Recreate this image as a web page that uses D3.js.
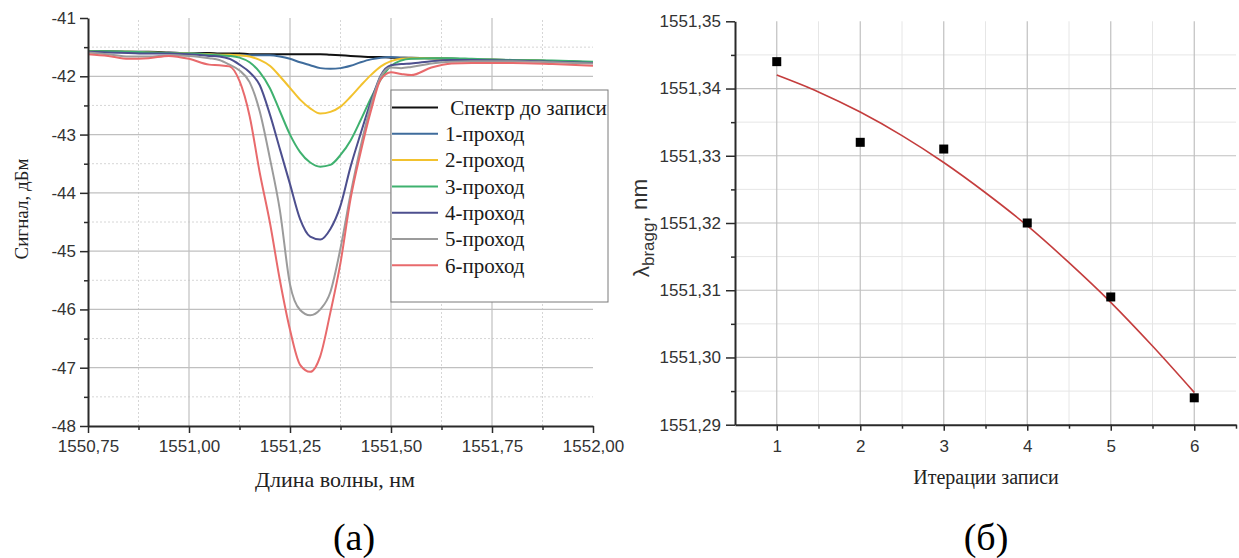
<!DOCTYPE html>
<html><head><meta charset="utf-8">
<script src="https://cdn.jsdelivr.net/npm/d3@7"></script>
<style>body{margin:0;background:#fff}svg{display:block}</style>
</head><body>
<svg id="c" width="1239" height="558"></svg>
<script>
// ---------- DATA (left chart) ----------
const wavelength = [1550.75,1550.80,1550.85,1550.90,1550.95,1551.00,1551.05,1551.075,1551.10,1551.125,
  1551.15,1551.175,1551.20,1551.225,1551.25,1551.275,1551.30,1551.325,1551.35,1551.375,
  1551.40,1551.425,1551.45,1551.475,1551.50,1551.525,1551.55,1551.60,1551.65,1551.70,
  1551.80,1551.90,1552.00];
const spectrumBefore = [-41.57,-41.57,-41.58,-41.58,-41.59,-41.60,-41.60,-41.61,-41.61,-41.61,
  -41.62,-41.62,-41.62,-41.62,-41.62,-41.62,-41.62,-41.62,-41.63,-41.64,
  -41.65,-41.66,-41.67,-41.67,-41.68,-41.68,-41.68,-41.69,-41.70,-41.71,
  -41.72,-41.74,-41.76];
const pass1 = [-41.57,-41.58,-41.58,-41.59,-41.60,-41.60,-41.62,-41.63,-41.64,-41.64,
  -41.64,-41.64,-41.64,-41.66,-41.70,-41.76,-41.81,-41.86,-41.87,-41.86,
  -41.82,-41.76,-41.71,-41.68,-41.67,-41.68,-41.69,-41.69,-41.70,-41.71,
  -41.72,-41.74,-41.76];
const pass2 = [-41.57,-41.58,-41.58,-41.59,-41.60,-41.61,-41.62,-41.63,-41.63,-41.64,
  -41.66,-41.72,-41.82,-42.00,-42.20,-42.40,-42.55,-42.64,-42.61,-42.52,
  -42.35,-42.16,-41.98,-41.83,-41.74,-41.70,-41.69,-41.69,-41.70,-41.71,
  -41.72,-41.74,-41.76];
const pass3 = [-41.57,-41.57,-41.58,-41.59,-41.60,-41.61,-41.63,-41.64,-41.65,-41.68,
  -41.76,-41.93,-42.20,-42.60,-43.00,-43.30,-43.48,-43.55,-43.52,-43.35,
  -43.10,-42.75,-42.38,-42.05,-41.82,-41.73,-41.70,-41.69,-41.69,-41.70,
  -41.72,-41.73,-41.75];
const pass4 = [-41.58,-41.59,-41.60,-41.61,-41.61,-41.62,-41.65,-41.66,-41.70,-41.80,
  -41.93,-42.15,-42.65,-43.25,-43.85,-44.45,-44.75,-44.80,-44.62,-44.22,
  -43.55,-42.98,-42.44,-41.98,-41.81,-41.79,-41.78,-41.74,-41.72,-41.72,
  -41.73,-41.75,-41.77];
const pass5 = [-41.59,-41.62,-41.66,-41.66,-41.64,-41.65,-41.69,-41.72,-41.80,-41.90,
  -42.10,-42.60,-43.40,-44.30,-45.57,-46.01,-46.10,-46.00,-45.70,-44.95,
  -44.02,-43.20,-42.50,-42.00,-41.85,-41.86,-41.84,-41.78,-41.75,-41.74,
  -41.74,-41.76,-41.78];
const pass6 = [-41.62,-41.65,-41.70,-41.69,-41.65,-41.70,-41.80,-41.81,-41.83,-42.08,
  -42.68,-43.65,-44.50,-45.50,-46.35,-46.95,-47.07,-46.80,-46.05,-45.20,
  -44.10,-43.30,-42.60,-42.05,-41.93,-41.96,-41.98,-41.85,-41.78,-41.77,
  -41.77,-41.79,-41.82];
const seriesNames = ["\u00a0Спектр до записи","1-проход","2-проход","3-проход","4-проход","5-проход","6-проход"];
const seriesColors = ["#111111","#3f6c9c","#f2c22e","#3fb16f","#4d4f8e","#9b9b9b","#e86a6c"];
const xTicksLeft = [1550.75,1551.00,1551.25,1551.50,1551.75,1552.00];
const yTicksLeft = [-48,-47,-46,-45,-44,-43,-42,-41];

// ---------- DATA (right chart) ----------
const iterations = [1,2,3,4,5,6];
const braggWl = [1551.3440,1551.3320,1551.3310,1551.3200,1551.3090,1551.2940];
const fitX = [1,1.5,2,2.5,3,3.5,4,4.5,5,5.5,6];
const fitY = [1551.3420,1551.3395,1551.3365,1551.3330,1551.3290,1551.3245,1551.3196,1551.3141,1551.3082,1551.3017,1551.2948];
const yTicksRight = [1551.29,1551.30,1551.31,1551.32,1551.33,1551.34,1551.35];

const svg = d3.select("#c");
svg.append("rect").attr("width",1239).attr("height",558).attr("fill","#fff");
const loc = d3.formatLocale({decimal:",",thousands:"\u00a0",grouping:[3],currency:["",""]});
const sans = "'Liberation Sans', Arial, sans-serif";
const serif = "'Liberation Serif', 'Times New Roman', serif";

function styleAxis(g){
  g.select(".domain").attr("stroke","#2a2a2a").attr("stroke-width",2);
  g.selectAll(".tick line").attr("stroke","#2a2a2a").attr("stroke-width",1.5);
  g.selectAll(".tick text").attr("fill","#333").style("font-family",sans).style("font-size","17px");
}

// ================= LEFT =================
{
  const x = d3.scaleLinear([1550.75,1552.00],[88,593]);
  const y = d3.scaleLinear([-48,-41],[426,18]);
  const g = svg.append("g");
  const minorX = d3.range(1550.875,1552.0,0.25);
  const minorY = d3.range(-47.5,-41,1);
  g.selectAll(".mgx").data(minorX).join("line")
    .attr("x1",d=>x(d)).attr("x2",d=>x(d)).attr("y1",y(-48)).attr("y2",y(-41))
    .attr("stroke","#d6d6d6").attr("stroke-dasharray","2,2").attr("stroke-width",1);
  g.selectAll(".mgy").data(minorY).join("line")
    .attr("x1",x(1550.75)).attr("x2",x(1552)).attr("y1",d=>y(d)).attr("y2",d=>y(d))
    .attr("stroke","#d6d6d6").attr("stroke-dasharray","2,2").attr("stroke-width",1);
  g.selectAll(".gx").data(xTicksLeft.slice(1,-1)).join("line")
    .attr("x1",d=>x(d)).attr("x2",d=>x(d)).attr("y1",y(-48)).attr("y2",y(-41))
    .attr("stroke","#c0c0c0").attr("stroke-width",1.2);
  g.selectAll(".gy").data(yTicksLeft.slice(1,-1)).join("line")
    .attr("x1",x(1550.75)).attr("x2",x(1552)).attr("y1",d=>y(d)).attr("y2",d=>y(d))
    .attr("stroke","#c0c0c0").attr("stroke-width",1.2);

  const all = [spectrumBefore,pass1,pass2,pass3,pass4,pass5,pass6];
  const line = d3.line().x((d,i)=>x(wavelength[i])).y(d=>y(d)).curve(d3.curveMonotoneX);
  all.forEach((s,k)=>{
    g.append("path").datum(s).attr("d",line).attr("fill","none")
      .attr("stroke",seriesColors[k]).attr("stroke-width",2);
  });

  g.append("g").attr("transform",`translate(0,${y(-48)})`)
    .call(d3.axisBottom(x).tickValues(minorX).tickSize(4).tickFormat("").tickSizeOuter(0))
    .call(a=>{a.select(".domain").remove();a.selectAll("line").attr("stroke","#2a2a2a").attr("stroke-width",1.5);});
  g.append("g").attr("transform",`translate(${x(1550.75)},0)`)
    .call(d3.axisLeft(y).tickValues(minorY).tickSize(4).tickFormat("").tickSizeOuter(0))
    .call(a=>{a.select(".domain").remove();a.selectAll("line").attr("stroke","#2a2a2a").attr("stroke-width",1.5);});
  g.append("g").attr("transform",`translate(0,${y(-48)})`)
    .call(d3.axisBottom(x).tickValues(xTicksLeft).tickSize(7).tickPadding(7).tickSizeOuter(0).tickFormat(loc.format(".2f")))
    .call(styleAxis);
  g.append("g").attr("transform",`translate(${x(1550.75)},0)`)
    .call(d3.axisLeft(y).tickValues(yTicksLeft).tickSize(8).tickPadding(4).tickSizeOuter(0).tickFormat(d=>String(d)))
    .call(styleAxis);

  const lg = g.append("g");
  lg.append("rect").attr("x",391).attr("y",90).attr("width",217).attr("height",212)
    .attr("fill","#fff").attr("stroke","#7a7a7a").attr("stroke-width",1);
  seriesNames.forEach((n,k)=>{
    const yy = 107.5 + k*26.3;
    lg.append("line").attr("x1",392).attr("x2",438).attr("y1",yy).attr("y2",yy)
      .attr("stroke",seriesColors[k]).attr("stroke-width",2);
    lg.append("text").attr("x",445).attr("y",yy).attr("dy","0.35em")
      .style("font-family",serif).style("font-size","21px").attr("fill","#1a1a1a").text(n);
  });

  svg.append("text").attr("transform","translate(28,209) rotate(-90)").attr("text-anchor","middle")
    .style("font-family",serif).style("font-size","19px").attr("fill","#222").text("Сигнал, дБм");
  svg.append("text").attr("x",335).attr("y",487).attr("text-anchor","middle")
    .style("font-family",serif).style("font-size","22px").attr("fill","#222").text("Длина волны, нм");
  svg.append("text").attr("x",354).attr("y",550).attr("text-anchor","middle")
    .style("font-family",serif).style("font-size","38px").attr("fill","#000").text("(а)");
}

// ================= RIGHT =================
{
  const x = d3.scaleLinear([0.5,6.5],[735,1236]);
  const y = d3.scaleLinear([1551.29,1551.35],[424.7,21.3]);
  const g = svg.append("g");
  const minorX = [1.5,2.5,3.5,4.5,5.5];
  const minorY = d3.range(1551.295,1551.35,0.01);
  g.selectAll(".mgx").data(minorX).join("line")
    .attr("x1",d=>x(d)).attr("x2",d=>x(d)).attr("y1",y(1551.29)).attr("y2",y(1551.35))
    .attr("stroke","#e6e6e6").attr("stroke-width",1);
  g.selectAll(".mgy").data(minorY).join("line")
    .attr("x1",x(0.5)).attr("x2",x(6.5)).attr("y1",d=>y(d)).attr("y2",d=>y(d))
    .attr("stroke","#e6e6e6").attr("stroke-width",1);
  g.selectAll(".gx").data(iterations).join("line")
    .attr("x1",d=>x(d)).attr("x2",d=>x(d)).attr("y1",y(1551.29)).attr("y2",y(1551.35))
    .attr("stroke","#c0c0c0").attr("stroke-width",1.2);
  g.selectAll(".gy").data(yTicksRight.slice(1,-1)).join("line")
    .attr("x1",x(0.5)).attr("x2",x(6.5)).attr("y1",d=>y(d)).attr("y2",d=>y(d))
    .attr("stroke","#c0c0c0").attr("stroke-width",1.2);

  const fl = d3.line().x((d,i)=>x(fitX[i])).y(d=>y(d)).curve(d3.curveMonotoneX);
  g.append("path").datum(fitY).attr("d",fl).attr("fill","none").attr("stroke","#c43d3d").attr("stroke-width",1.6);
  g.selectAll(".pt").data(iterations).join("rect")
    .attr("x",(d)=>x(d)-4.5).attr("y",(d,i)=>y(braggWl[i])-4.5).attr("width",9).attr("height",9).attr("fill","#000");

  g.append("g").attr("transform",`translate(0,${y(1551.29)})`)
    .call(d3.axisBottom(x).tickValues([1.5,2.5,3.5,4.5,5.5,6.5]).tickSize(4).tickFormat("").tickSizeOuter(0))
    .call(a=>{a.select(".domain").remove();a.selectAll("line").attr("stroke","#2a2a2a").attr("stroke-width",1.5);});
  g.append("g").attr("transform",`translate(${x(0.5)},0)`)
    .call(d3.axisLeft(y).tickValues(minorY).tickSize(4).tickFormat("").tickSizeOuter(0))
    .call(a=>{a.select(".domain").remove();a.selectAll("line").attr("stroke","#2a2a2a").attr("stroke-width",1.5);});
  g.append("g").attr("transform",`translate(0,${y(1551.29)})`)
    .call(d3.axisBottom(x).tickValues(iterations).tickSize(6).tickPadding(9).tickSizeOuter(0).tickFormat(d=>String(d)))
    .call(styleAxis);
  g.append("g").attr("transform",`translate(${x(0.5)},0)`)
    .call(d3.axisLeft(y).tickValues(yTicksRight).tickSize(9).tickPadding(5).tickSizeOuter(0).tickFormat(loc.format(".2f")))
    .call(styleAxis);

  const yl = svg.append("text").attr("transform","translate(649,228) rotate(-90)").attr("text-anchor","middle")
    .style("font-family",sans).style("font-size","22.5px").attr("fill","#333");
  yl.append("tspan").text("λ");
  yl.append("tspan").attr("dy","0.3em").style("font-size","17px").text("bragg");
  yl.append("tspan").attr("dy","-0.3em").text(", nm");
  svg.append("text").attr("x",986).attr("y",484).attr("text-anchor","middle")
    .style("font-family",serif).style("font-size","20px").attr("fill","#222").text("Итерации записи");
  svg.append("text").attr("x",986).attr("y",550).attr("text-anchor","middle")
    .style("font-family",serif).style("font-size","38px").attr("fill","#000").text("(б)");
}
</script>
</body></html>
